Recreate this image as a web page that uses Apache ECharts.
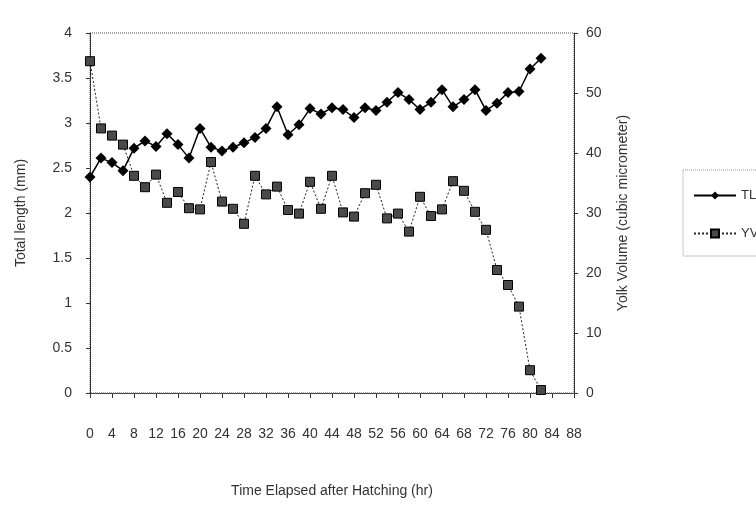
<!DOCTYPE html>
<html>
<head>
<meta charset="utf-8">
<script src="https://cdn.jsdelivr.net/npm/echarts@6/dist/echarts.min.js"></script>
<style>
  html, body { margin: 0; padding: 0; background: #fff; }
  #chart { width: 756px; height: 515px; }
</style>
</head>
<body>
<div id="chart"></div>
<script>
// hours after hatching, one reading every 2 hr
const hours = [0, 2, 4, 6, 8, 10, 12, 14, 16, 18, 20, 22, 24, 26, 28, 30, 32, 34, 36, 38, 40,
  42, 44, 46, 48, 50, 52, 54, 56, 58, 60, 62, 64, 66, 68, 70, 72, 74, 76, 78, 80, 82];

// total length (mm), left axis
const totalLength = [2.40, 2.61, 2.56, 2.47, 2.72, 2.80, 2.74, 2.88, 2.76, 2.61, 2.94,
  2.73, 2.69, 2.73, 2.78, 2.84, 2.94, 3.18, 2.87, 2.98, 3.16, 3.10, 3.17, 3.15, 3.06,
  3.17, 3.14, 3.23, 3.34, 3.26, 3.15, 3.23, 3.37, 3.18, 3.26, 3.37, 3.14, 3.22, 3.34,
  3.35, 3.60, 3.72];

// yolk volume (cubic micrometer), right axis
const yolkVolume = [55.3, 44.1, 42.9, 41.4, 36.2, 34.3, 36.4, 31.7, 33.5, 30.8, 30.6,
  38.5, 31.9, 30.7, 28.2, 36.2, 33.1, 34.4, 30.5, 29.9, 35.2, 30.7, 36.2, 30.1, 29.4,
  33.3, 34.7, 29.1, 29.9, 26.9, 32.7, 29.5, 30.6, 35.3, 33.7, 30.2, 27.2, 20.5, 18.0,
  14.4, 3.8, 0.5];

const lengthTicks = ['0', '0.5', '1', '1.5', '2', '2.5', '3', '3.5', '4'];

const chart = echarts.init(document.getElementById('chart'));
const font = 'Liberation Sans, Arial, sans-serif';
const textStyle = { color: '#333', fontSize: 14, fontFamily: font };

chart.setOption({
  animation: false,
  backgroundColor: '#fff',
  textStyle: textStyle,
  grid: {
    left: 90, right: 182, top: 33, bottom: 122,
    show: true, borderColor: '#555', borderWidth: 1, borderType: 'dotted'
  },
  legend: {
    orient: 'vertical',
    left: 683, top: 170,
    itemWidth: 42, itemHeight: 10, itemGap: 25,
    padding: [19, 20, 16, 10],
    borderColor: '#999', borderWidth: 1, borderType: 'dotted',
    textStyle: { color: '#333', fontSize: 13, fontFamily: font },
    data: ['TL', 'YV']
  },
  xAxis: {
    type: 'value',
    min: 0, max: 88, interval: 4,
    name: 'Time Elapsed after Hatching (hr)',
    nameLocation: 'middle', nameGap: 91,
    nameTextStyle: textStyle,
    axisLine: { lineStyle: { color: '#333', type: 'dotted' } },
    axisTick: { show: true, length: 5, lineStyle: { color: '#333' } },
    axisLabel: { margin: 34, color: '#333', fontSize: 14, fontFamily: font },
    splitLine: { show: false }
  },
  yAxis: [
    {
      type: 'value',
      min: 0, max: 4, interval: 0.5,
      name: 'Total length (mm)',
      nameLocation: 'middle', nameGap: 62,
      nameTextStyle: textStyle,
      axisLine: { show: true, lineStyle: { color: '#333' } },
      axisTick: { show: true, length: 4, lineStyle: { color: '#333' } },
      axisLabel: {
        margin: 18, color: '#333', fontSize: 14, fontFamily: font,
        formatter: (v) => lengthTicks[Math.round(v / 0.5)]
      },
      splitLine: { show: false }
    },
    {
      type: 'value',
      min: 0, max: 60, interval: 10,
      position: 'right',
      name: 'Yolk Volume (cubic micrometer)',
      nameLocation: 'middle', nameGap: 42, nameRotate: 90,
      nameTextStyle: textStyle,
      axisLine: { show: true, lineStyle: { color: '#333' } },
      axisTick: { show: true, inside: false, length: 4, lineStyle: { color: '#333' } },
      axisLabel: { margin: 12, color: '#333', fontSize: 14, fontFamily: font },
      splitLine: { show: false }
    }
  ],
  series: [
    {
      name: 'TL',
      type: 'line',
      yAxisIndex: 0,
      data: hours.map((h, i) => [h, totalLength[i]]),
      symbol: 'diamond',
      symbolSize: 11,
      itemStyle: { color: '#000' },
      lineStyle: { color: '#000', width: 1.5 },
      z: 3
    },
    {
      name: 'YV',
      type: 'line',
      yAxisIndex: 1,
      data: hours.map((h, i) => [h, yolkVolume[i]]),
      symbol: 'rect',
      symbolSize: 9,
      itemStyle: { color: '#4a4a4a', borderColor: '#000', borderWidth: 1 },
      lineStyle: { color: '#222', width: 1, type: [2, 2] },
      z: 2
    }
  ]
});
</script>
</body>
</html>
